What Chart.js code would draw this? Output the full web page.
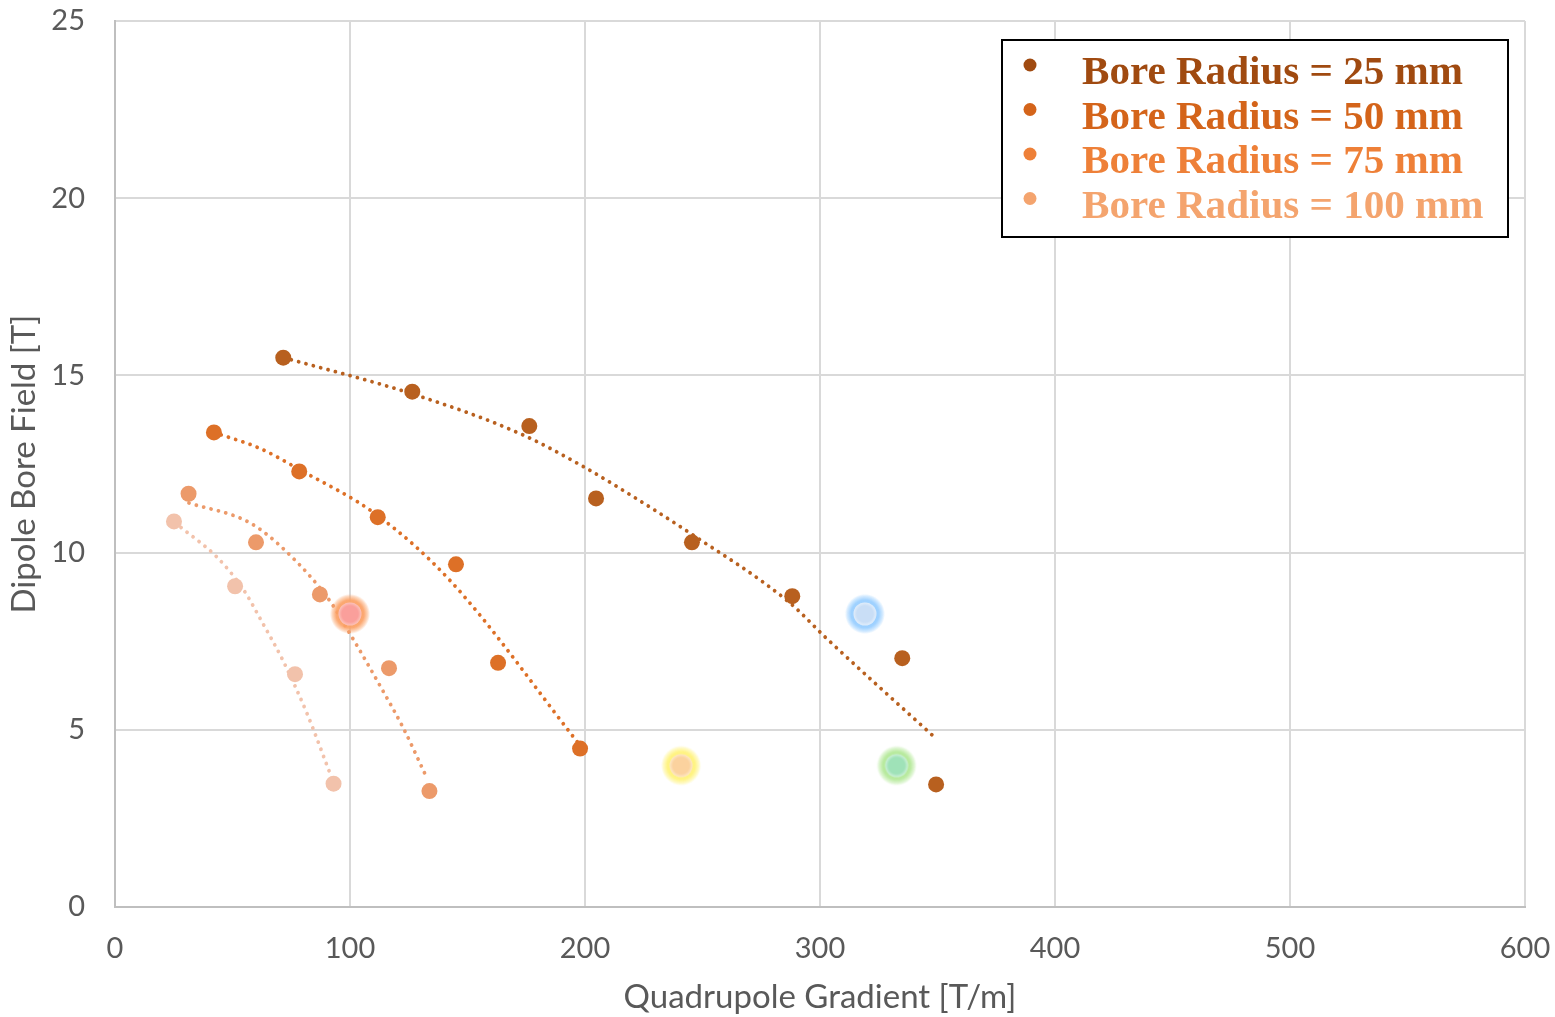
<!DOCTYPE html>
<html>
<head>
<meta charset="utf-8">
<script src="https://cdn.jsdelivr.net/npm/chart.js@4.4.0/dist/chart.umd.min.js"></script>
<style>
  html, body { margin: 0; background: #fff; }
</style>
</head>
<body>
<canvas id="chart" width="1555" height="1017"></canvas>
<script>
// measured series (Quadrupole Gradient [T/m] vs Dipole Bore Field [T])
const labels = ['Bore Radius = 25 mm', 'Bore Radius = 50 mm', 'Bore Radius = 75 mm', 'Bore Radius = 100 mm']

const r25X = [71.6, 126.5, 176.3, 204.7, 245.5, 288.2, 335.0, 349.4]
const r25Y = [15.50, 14.54, 13.57, 11.53, 10.29, 8.77, 7.02, 3.46]
const r50X = [42.1, 78.4, 111.8, 145.1, 163.0, 197.9]
const r50Y = [13.39, 12.29, 11.00, 9.67, 6.89, 4.47]
const r75X = [31.3, 60.0, 87.2, 116.6, 133.8]
const r75Y = [11.66, 10.29, 8.82, 6.74, 3.27]
const r100X = [25.1, 51.1, 76.6, 93.0]
const r100Y = [10.88, 9.05, 6.57, 3.48]

// dotted trend lines
const t25X = [71.9, 126.4, 172.3, 200.0, 214.9, 244.7, 287.2, 302.6, 349.4]
const t25Y = [15.50, 14.48, 13.36, 12.40, 11.81, 10.55, 8.58, 7.59, 4.75]
const t50X = [42.1, 61.7, 78.3, 111.5, 142.6, 197.9]
const t50Y = [13.39, 12.94, 12.35, 11.06, 9.21, 4.56]
const t75X = [31.5, 57.4, 73.2, 91.5, 100.0, 114.0, 122.6, 132.8]
const t75Y = [11.40, 10.84, 10.01, 8.63, 7.71, 6.10, 5.06, 3.63]
const t100X = [28.1, 43.4, 54.5, 63.0, 71.5, 81.7, 91.5]
const t100Y = [10.71, 9.87, 8.97, 7.99, 6.95, 5.46, 3.77]

// highlighted glowing markers
const glowX = [100.0, 319.1, 240.9, 332.6]
const glowY = [8.27, 8.27, 3.99, 3.99]

const xTicks = [0, 100, 200, 300, 400, 500, 600]
const yTicks = [0, 5, 10, 15, 20, 25]

const pointColors = ['#b8601f', '#dd7027', '#ec9a6a', '#f2c2ab']
const legendColors = ['#a04a10', '#d4641a', '#ee8038', '#f4a46e']
const glowColors = [
  {core: '#fa9f9b', rim: '#fcc3bb', glow: [251, 160, 100]},
  {core: '#c9def6', rim: '#e2eefb', glow: [150, 205, 255]},
  {core: '#fbd29e', rim: '#fde7c6', glow: [255, 242, 120]},
  {core: '#9fe2b8', rim: '#cdf0d8', glow: [178, 232, 150]}
]

const zip = (xs, ys) => xs.map((x, i) => ({x, y: ys[i]}))

function glowImage(c) {
  const size = 44
  const cv = document.createElement('canvas')
  cv.width = size
  cv.height = size
  const g = cv.getContext('2d')
  const m = size / 2
  const [r, gg, b] = c.glow
  const outer = g.createRadialGradient(m, m, 9, m, m, 20)
  outer.addColorStop(0, `rgba(${r},${gg},${b},1)`)
  outer.addColorStop(0.45, `rgba(${r},${gg},${b},0.9)`)
  outer.addColorStop(0.8, `rgba(${r},${gg},${b},0.4)`)
  outer.addColorStop(1, `rgba(${r},${gg},${b},0)`)
  g.fillStyle = outer
  g.beginPath(); g.arc(m, m, 21, 0, Math.PI * 2); g.fill()
  const inner = g.createRadialGradient(m, m, 0, m, m, 11.5)
  inner.addColorStop(0, c.core)
  inner.addColorStop(0.7, c.core)
  inner.addColorStop(1, c.rim)
  g.fillStyle = inner
  g.beginPath(); g.arc(m, m, 11.5, 0, Math.PI * 2); g.fill()
  return cv
}

const series = [[r25X, r25Y], [r50X, r50Y], [r75X, r75Y], [r100X, r100Y]]
const trends = [[t25X, t25Y], [t50X, t50Y], [t75X, t75Y], [t100X, t100Y]]

const datasets = []
trends.forEach(([xs, ys], i) => {
  datasets.push({
    type: 'line',
    data: zip(xs, ys),
    borderColor: pointColors[i],
    borderWidth: 3.8,
    borderDash: [0.01, 7.6],
    borderCapStyle: 'round',
    cubicInterpolationMode: 'monotone',
    pointRadius: 0,
    fill: false,
    order: 3
  })
})
series.forEach(([xs, ys], i) => {
  datasets.push({
    label: labels[i],
    data: zip(xs, ys),
    backgroundColor: pointColors[i],
    borderWidth: 0,
    pointRadius: 8,
    order: 2
  })
})
glowX.forEach((x, i) => {
  datasets.push({
    data: [{x, y: glowY[i]}],
    pointStyle: glowImage(glowColors[i]),
    pointRadius: 20,
    order: 1
  })
})

// legend box drawn inside the plot, top right
const legendBox = {
  id: 'legendBox',
  afterDraw(chart) {
    const ctx = chart.ctx
    ctx.save()
    ctx.fillStyle = '#fff'
    ctx.fillRect(1002, 40, 506, 197)
    ctx.strokeStyle = '#000'
    ctx.lineWidth = 2
    ctx.strokeRect(1002, 40, 506, 197)
    ctx.font = 'bold 39px "Liberation Serif", serif'
    const w = ctx.measureText(labels[0]).width
    const sx = 381 / w
    labels.forEach((t, i) => {
      const y = 84 + i * 44.7
      ctx.fillStyle = legendColors[i]
      ctx.beginPath()
      ctx.arc(1030, 65 + i * 44.5, 6.5, 0, Math.PI * 2)
      ctx.fill()
      ctx.save()
      ctx.translate(1082, y)
      ctx.scale(sx, 1)
      ctx.textBaseline = 'alphabetic'
      ctx.fillText(t, 0, 0)
      ctx.restore()
    })
    ctx.restore()
  }
}

const tickFont = {family: 'Lato, "Open Sans", sans-serif', size: 29}
const titleFont = {family: 'Lato, "Open Sans", sans-serif', size: 33}

// keep tick labels from pushing the plot area in; layout padding sets it
const noLabelPad = s => {
  s.paddingTop = 0
  s.paddingBottom = 0
  s.paddingLeft = 0
  s.paddingRight = 0
}

new Chart(document.getElementById('chart'), {
  type: 'scatter',
  data: {datasets},
  options: {
    responsive: false,
    animation: false,
    layout: {padding: {top: 18, right: 30, left: 0, bottom: 0}},
    plugins: {legend: {display: false}, tooltip: {enabled: false}},
    scales: {
      x: {
        type: 'linear',
        min: 0,
        max: 600,
        afterBuildTicks: s => { s.ticks = xTicks.map(v => ({value: v})) },
        afterFit: s => { s.height = 110; noLabelPad(s) },
        grid: {color: '#d9d9d9', lineWidth: 2, drawTicks: false},
        border: {color: '#bfbfbf', width: 2},
        ticks: {color: '#595959', font: tickFont, padding: 24},
        title: {
          display: true,
          text: 'Quadrupole Gradient [T/m]',
          color: '#595959',
          font: titleFont,
          padding: {top: 0, bottom: 0}
        }
      },
      y: {
        type: 'linear',
        min: 0,
        max: 25,
        afterBuildTicks: s => { s.ticks = yTicks.map(v => ({value: v})) },
        afterFit: s => { s.width = 115; noLabelPad(s) },
        grid: {color: '#d9d9d9', lineWidth: 2, drawTicks: false},
        border: {color: '#bfbfbf', width: 2},
        ticks: {color: '#595959', font: tickFont, padding: 30},
        title: {
          display: true,
          text: 'Dipole Bore Field [T]',
          color: '#595959',
          font: titleFont,
          padding: {top: 5, bottom: 0}
        }
      }
    }
  },
  plugins: [legendBox]
})
</script>
</body>
</html>
